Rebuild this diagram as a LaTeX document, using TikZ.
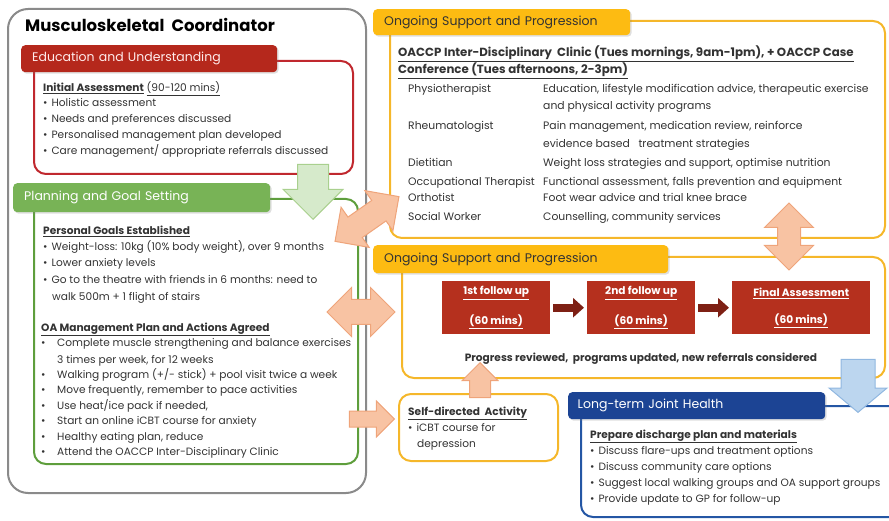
\documentclass[tikz,border=0pt]{standalone}
\usepackage{fontspec}
\setmainfont{Poppins}
\usetikzlibrary{shapes.arrows,shadows,arrows.meta}

\definecolor{frame}{HTML}{8A8A8A}
\definecolor{eduRed}{HTML}{B5281C}
\definecolor{eduLine}{HTML}{C0282E}
\definecolor{goalGreen}{HTML}{78B356}
\definecolor{goalLine}{HTML}{5E9E3C}
\definecolor{supGold}{HTML}{FDBB12}
\definecolor{supLine}{HTML}{F5B72A}
\definecolor{jointBlue}{HTML}{1C4494}
\definecolor{jointLine}{HTML}{2456A4}
\definecolor{fuRed}{HTML}{B5301E}
\definecolor{fuArrow}{HTML}{7E2014}
\definecolor{peach}{HTML}{F8C3A3}
\definecolor{peachLine}{HTML}{EFA47A}
\definecolor{mint}{HTML}{D6EACB}
\definecolor{mintLine}{HTML}{A9D08E}
\definecolor{sky}{HTML}{BCD6EF}
\definecolor{skyLine}{HTML}{90B7E0}
\definecolor{ink}{HTML}{333333}

\newcommand{\body}{\fontsize{10.6}{12}\selectfont}
\newcommand{\tbl}{\fontsize{10.8}{12}\selectfont}
\newcommand{\hd}[1]{\textbf{\underline{#1}}}
\newcommand{\bul}{\textbullet\hspace{4pt}}

\begin{document}
\begin{tikzpicture}[x=1pt,y=-1pt,
    txt/.style={anchor=base west,inner sep=0pt,font=\body,text=ink},
    panel/.style={draw,rounded corners=12pt,line width=2pt,anchor=north west,inner sep=0pt},
    tab/.style={rounded corners=4pt,anchor=north west,inner xsep=11pt,inner ysep=0pt,
        align=left,font=\fontsize{12.5}{14}\selectfont,
        drop shadow={opacity=.25,shadow xshift=1.5pt,shadow yshift=-1.5pt}},
    fu/.style={fill=fuRed,anchor=north west,minimum height=53pt,inner sep=0pt,
        align=center,text=white,font=\body\bfseries},
    blk/.style={inner sep=0pt,minimum size=0pt,line width=1pt}]
    \useasboundingbox (0,0) rectangle (889,521);

    % frames
    \node[panel,draw=frame,rounded corners=20pt,minimum width=358pt,minimum height=484pt] (msk) at (7,8) {};
    \node[panel,draw=eduLine,minimum width=319pt,minimum height=113pt] (edubox) at (33,60) {};
    \node[panel,draw=goalLine,minimum width=324pt,minimum height=265pt] (goalbox) at (33,198) {};
    \node[panel,draw=supLine,minimum width=495pt,minimum height=217pt] (clinicbox) at (389,20) {};
    \node[panel,draw=supLine,minimum width=483pt,minimum height=121pt] (followbox) at (401,256) {};
    \node[panel,draw=supLine,minimum width=159pt,minimum height=67pt] (selfbox) at (398,393) {};
    \node[panel,draw=jointLine,minimum width=325pt,minimum height=111pt] (jointbox) at (580,405) {};

    % headers
    \node[anchor=base west,inner sep=0pt,font=\bfseries\fontsize{16.5}{18}\selectfont] (title) at (25,32) {Musculoskeletal\ \ Coordinator};
    \node[tab,fill=eduRed,text=red!8,minimum width=256pt,text width=234pt,minimum height=27pt] (edutab) at (21,45) {Education and Understanding};
    \node[tab,fill=goalGreen,text=white,minimum width=257pt,text width=235pt,minimum height=29pt] (goaltab) at (13,183) {Planning and Goal Setting};
    \node[tab,fill=supGold,text=ink,minimum width=257pt,text width=235pt,minimum height=26pt] (clinictab) at (373,9) {Ongoing Support and Progression};
    \node[tab,fill=supGold,text=ink,minimum width=295pt,text width=273pt,minimum height=28pt] (followtab) at (373,245) {Ongoing Support and Progression};
    \node[tab,fill=jointBlue,text=white,minimum width=257pt,text width=238pt,inner xsep=9pt,minimum height=27pt] (jointtab) at (568,392) {Long-term Joint Health};

    % education
    \node[txt] (ia) at (43,92) {\hd{Initial Assessment} \underline{(90-120 mins)}};
    \node[txt] (ia1) at (43,107) {\bul Holistic assessment};
    \node[txt] (ia2) at (43,123) {\bul Needs and preferences discussed};
    \node[txt] (ia3) at (43,139) {\bul Personalised management plan developed};
    \node[txt] (ia4) at (43,155) {\bul Care management/ appropriate referrals discussed};

    % goals
    \node[txt] (pg) at (43,235) {\hd{Personal Goals Established}};
    \node[txt] (pg1) at (43,251) {\bul Weight-loss: 10kg (10\% body weight), over 9 months};
    \node[txt] (pg2) at (43,267) {\bul Lower anxiety levels};
    \node[txt] (pg3) at (43,284) {\bul Go to the theatre with friends in 6 months: need to};
    \node[txt] (pg3b) at (52,301) {walk 500m + 1 flight of stairs};
    \node[txt] (oa) at (41,331) {\hd{OA Management Plan and Actions Agreed}};
    \node[txt] (oa1) at (41,347) {\makebox[16pt][l]{\textbullet}Complete muscle strengthening and balance exercises};
    \node[txt] (oa1b) at (57,363) {3 times per week, for 12 weeks};
    \node[txt] (oa2) at (41,378) {\makebox[16pt][l]{\textbullet}Walking program (+/- stick) + pool visit twice a week};
    \node[txt] (oa3) at (41,393) {\makebox[16pt][l]{\textbullet}Move frequently, remember to pace activities};
    \node[txt] (oa4) at (41,409) {\makebox[16pt][l]{\textbullet}Use heat/ice pack if needed,};
    \node[txt] (oa5) at (41,424) {\makebox[16pt][l]{\textbullet}Start an online iCBT course for anxiety};
    \node[txt] (oa6) at (41,440) {\makebox[16pt][l]{\textbullet}Healthy eating plan, reduce};
    \node[txt] (oa7) at (41,455) {\makebox[16pt][l]{\textbullet}Attend the OACCP Inter-Disciplinary Clinic};

    % clinic table
    \node[txt,font=\fontsize{11.8}{13}\selectfont] (cl) at (398,57) {\hd{OACCP Inter-Disciplinary\ \ Clinic (Tues mornings, 9am-1pm), + OACCP Case}};
    \node[txt,font=\fontsize{11.8}{13}\selectfont] (clb) at (398,74) {\hd{Conference (Tues afternoons, 2-3pm)}};
    \node[txt,font=\tbl] (physio) at (408,93) {Physiotherapist};
    \node[txt,font=\tbl] (physioA) at (543,93) {Education, lifestyle modification advice, therapeutic exercise};
    \node[txt,font=\tbl] (physioB) at (543,110) {and physical activity programs};
    \node[txt,font=\tbl] (rheum) at (408,130) {Rheumatologist};
    \node[txt,font=\tbl] (rheumA) at (543,130) {Pain management, medication review, reinforce};
    \node[txt,font=\tbl] (rheumB) at (543,148) {evidence based\ \ \ treatment strategies};
    \node[txt,font=\tbl] (diet) at (408,167) {Dietitian};
    \node[txt,font=\tbl] (dietA) at (543,167) {Weight loss strategies and support, optimise nutrition};
    \node[txt,font=\tbl] (ot) at (408,186) {Occupational Therapist};
    \node[txt,font=\tbl] (otA) at (543,186) {Functional assessment, falls prevention and equipment};
    \node[txt,font=\tbl] (orth) at (408,202) {Orthotist};
    \node[txt,font=\tbl] (orthA) at (543,202) {Foot wear advice and trial knee brace};
    \node[txt,font=\tbl] (sw) at (408,221) {Social Worker};
    \node[txt,font=\tbl] (swA) at (543,221) {Counselling, community services};

    % follow ups
    \node[fu,minimum width=108pt] (fu1) at (442,281) {\underline{1st follow up}\\[15pt]\underline{(60 mins)}};
    \node[fu,minimum width=108pt] (fu2) at (587,281) {\underline{2nd follow up}\\[15pt]\underline{(60 mins)}};
    \node[fu,minimum width=138pt] (fu3) at (732,281) {\underline{Final Assessment}\\[15pt]\underline{(60 mins)}};
    \draw[fuArrow,line width=8pt,-{Triangle[width=19pt,length=11pt]},shorten <=3pt,shorten >=3pt] (fu1) -- (fu2);
    \draw[fuArrow,line width=8pt,-{Triangle[width=19pt,length=11pt]},shorten <=3pt,shorten >=3pt] (fu2) -- (fu3);
    \node[txt,anchor=base,font=\body\bfseries] (progress) at (641,361) {Progress reviewed,\ \ programs updated, new referrals considered};

    % self directed
    \node[txt] (sd) at (408,415) {\hd{Self-directed\ \ Activity}};
    \node[txt] (sd1) at (408,431) {\bul iCBT course for};
    \node[txt] (sd1b) at (417,447) {depression};

    % long-term
    \node[txt] (dp) at (590,438) {\hd{Prepare discharge plan and materials}};
    \node[txt] (dp1) at (590,454) {\bul Discuss flare-ups and treatment options};
    \node[txt] (dp2) at (590,470) {\bul Discuss community care options};
    \node[txt] (dp3) at (590,486) {\bul Suggest local walking groups and OA support groups};
    \node[txt] (dp4) at (590,502) {\bul Provide update to GP for follow-up};

    % block arrows
    \node[single arrow,blk,fill=mint,draw=mintLine,minimum height=55pt,inner ysep=15pt,
        single arrow head extend=14.5pt,rotate=-90,anchor=tip] (toGoals) at (313,220) {};
    \node[double arrow,blk,fill=peach,draw=peachLine,minimum height=78pt,inner ysep=12pt,
        double arrow head extend=12pt,rotate=35] (toClinic) at (367,219) {};
    \node[double arrow,blk,fill=peach,draw=peachLine,minimum height=68pt,inner ysep=12pt,
        double arrow head extend=12pt] (toFollow) at (361,312) {};
    \node[single arrow,blk,fill=peach,draw=peachLine,minimum height=45pt,inner ysep=7.5pt,
        single arrow head extend=10pt,anchor=tip] (toSelf) at (395,419) {};
    \node[single arrow,blk,fill=peach,draw=peachLine,minimum height=35pt,inner ysep=10pt,
        single arrow head extend=7.5pt,rotate=90,anchor=tip] (selfUp) at (480,362) {};
    \node[double arrow,blk,fill=peach,draw=peachLine,minimum height=67pt,inner ysep=11pt,
        double arrow head extend=13pt,rotate=90] (clinicFollow) at (789,236.5) {};
    \node[single arrow,blk,fill=sky,draw=skyLine,minimum height=53pt,inner ysep=16.5pt,
        single arrow head extend=12pt,single arrow tip angle=100,rotate=-90,anchor=tip] (toJoint) at (858,413) {};
\end{tikzpicture}
\end{document}
